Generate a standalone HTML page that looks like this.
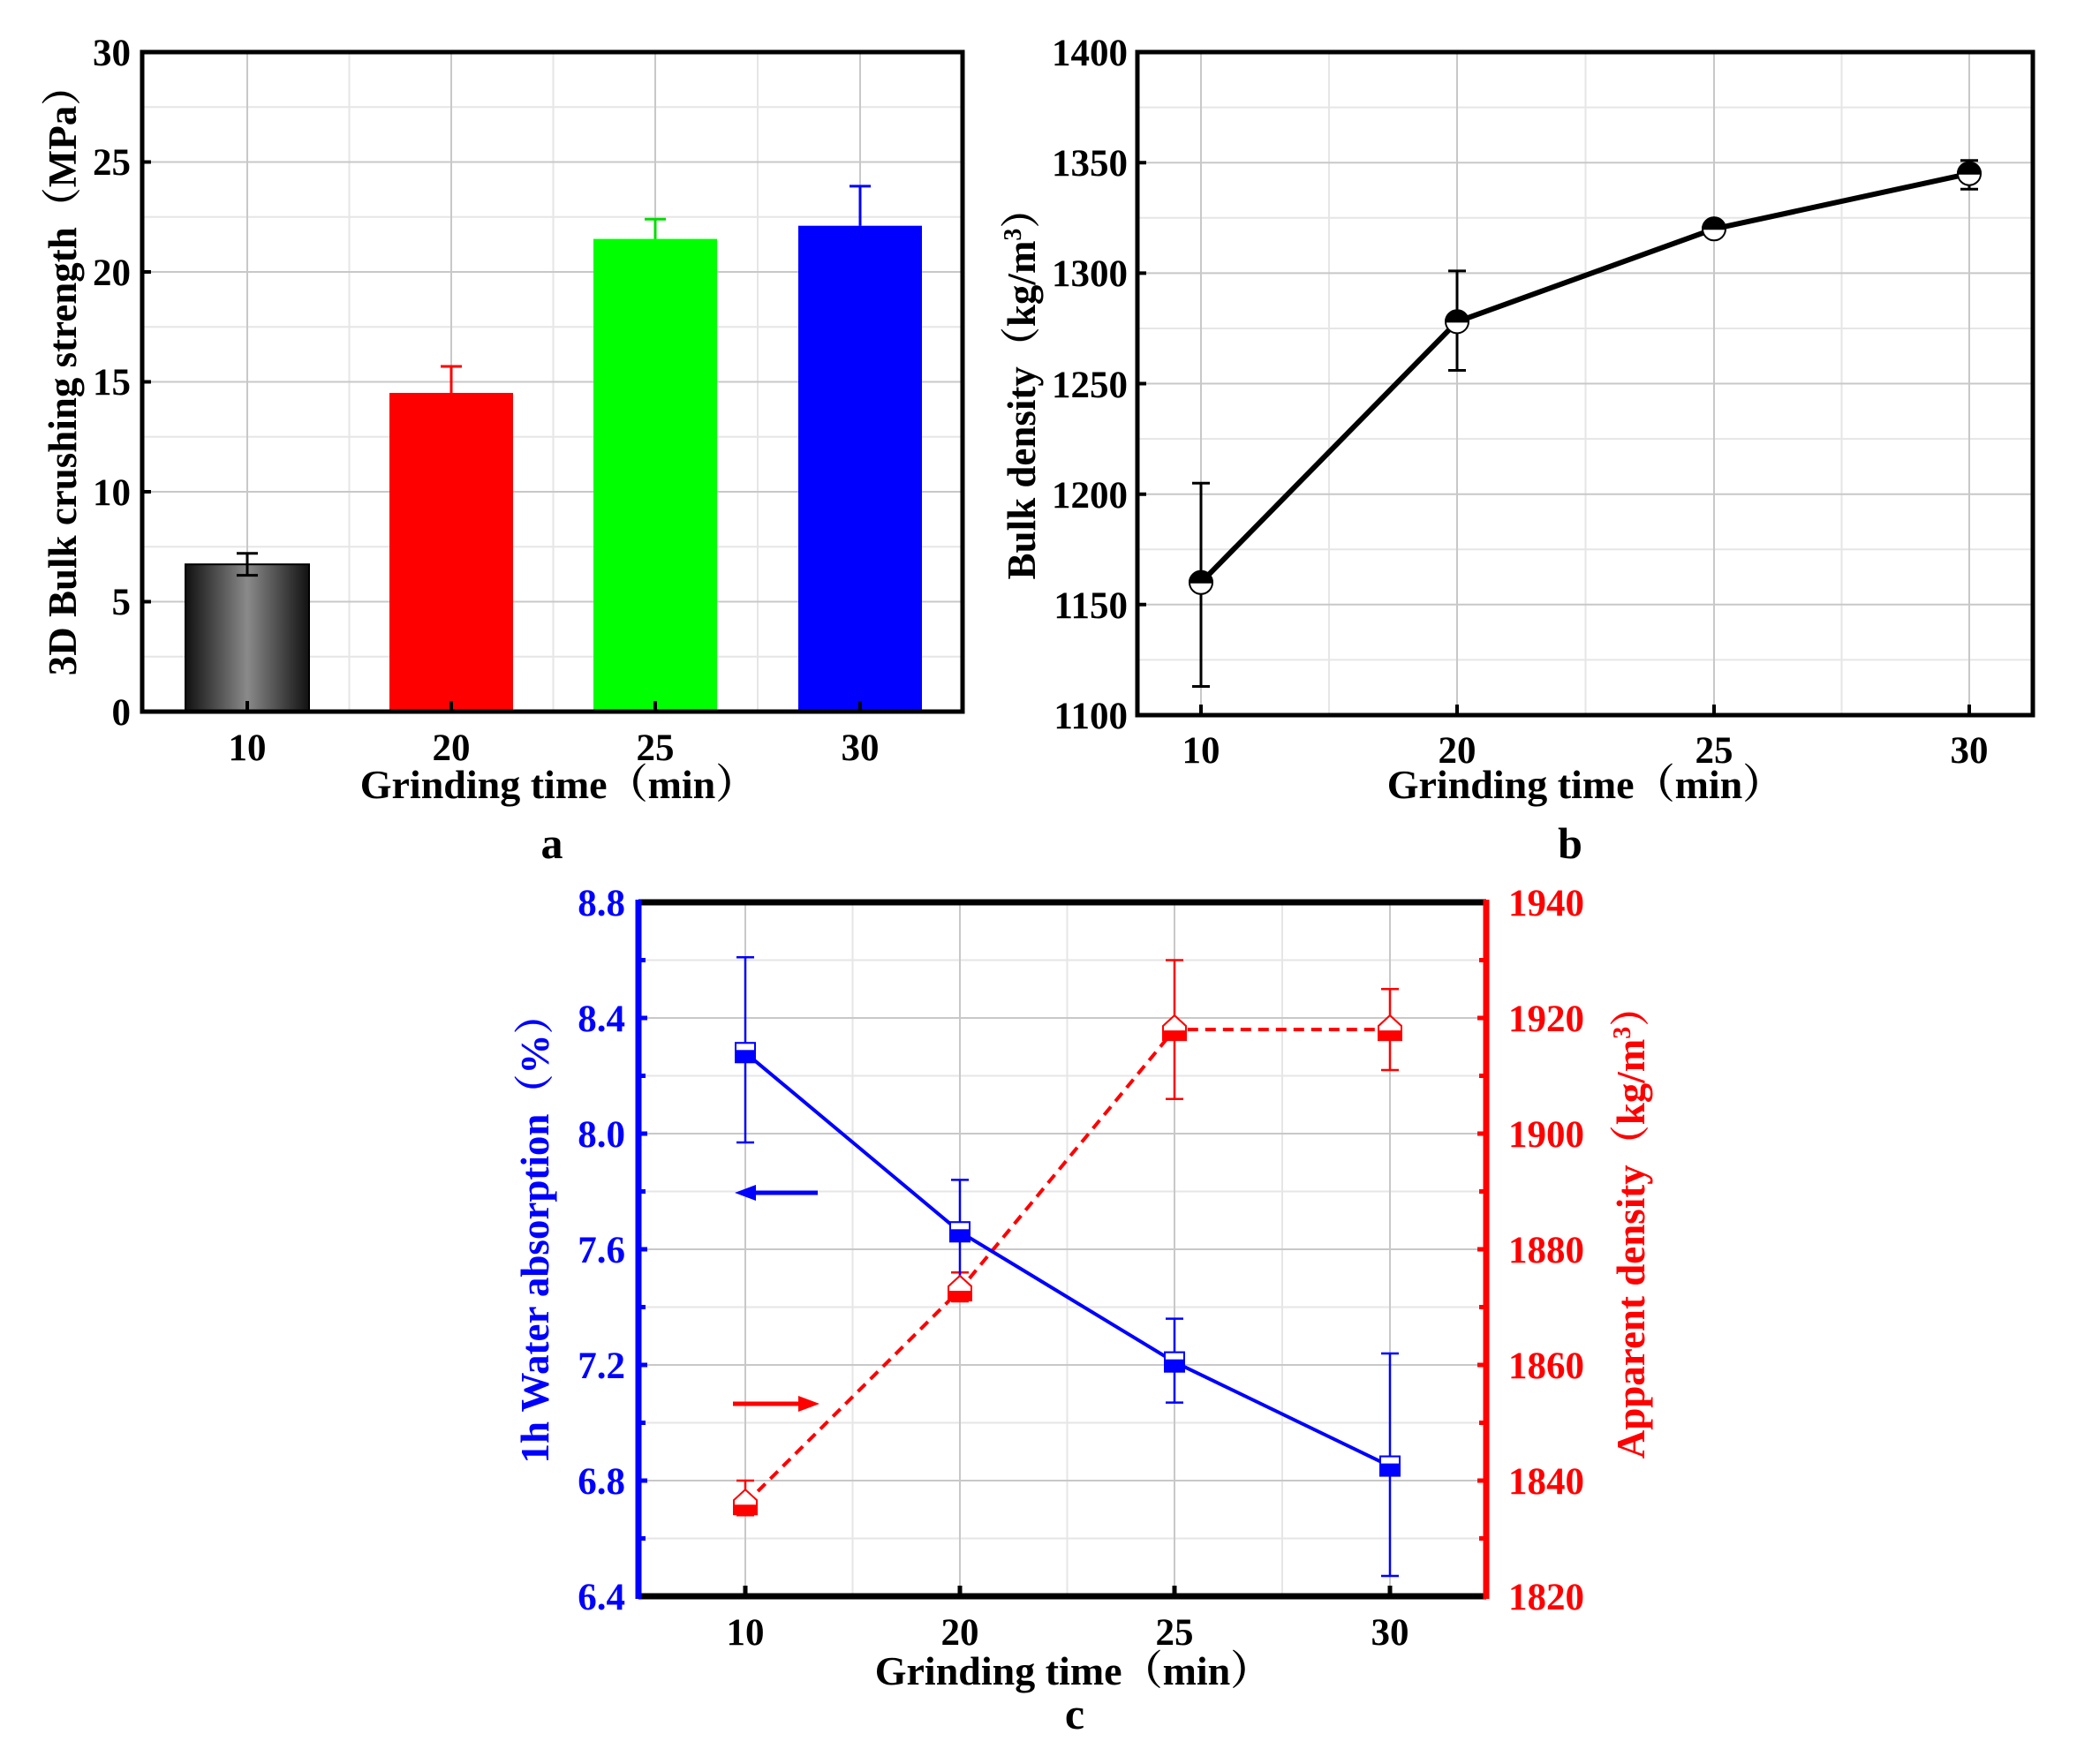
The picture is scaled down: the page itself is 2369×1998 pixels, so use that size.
<!DOCTYPE html>
<html><head><meta charset="utf-8"><style>
html,body{margin:0;padding:0;background:#fff}
svg{display:block}
text{font-family:"Liberation Serif","Noto Serif CJK SC",serif;font-weight:bold}
</style></head><body>
<svg width="2369" height="1998" viewBox="0 0 2369 1998" xmlns="http://www.w3.org/2000/svg">
<defs>
<linearGradient id="gb" x1="0" x2="1" y1="0" y2="0">
<stop offset="0" stop-color="#111"/><stop offset="0.5" stop-color="#8a8a8a"/><stop offset="1" stop-color="#111"/>
</linearGradient>
</defs>
<!-- Panel a -->
<g stroke="#e6e6e6" stroke-width="2">
<line x1="161" x2="1090" y1="743.8" y2="743.8"/><line x1="161" x2="1090" y1="619.3" y2="619.3"/><line x1="161" x2="1090" y1="494.8" y2="494.8"/><line x1="161" x2="1090" y1="370.3" y2="370.3"/><line x1="161" x2="1090" y1="245.8" y2="245.8"/><line x1="161" x2="1090" y1="121.3" y2="121.3"/>
<line x1="395.5" x2="395.5" y1="59" y2="806"/><line x1="626.5" x2="626.5" y1="59" y2="806"/><line x1="858" x2="858" y1="59" y2="806"/>
</g>
<g stroke="#c8c8c8" stroke-width="2">
<line x1="161" x2="1090" y1="681.5" y2="681.5"/><line x1="161" x2="1090" y1="557" y2="557"/><line x1="161" x2="1090" y1="432.5" y2="432.5"/><line x1="161" x2="1090" y1="308" y2="308"/><line x1="161" x2="1090" y1="183.5" y2="183.5"/>
<line x1="280" x2="280" y1="59" y2="806"/><line x1="511" x2="511" y1="59" y2="806"/><line x1="742" x2="742" y1="59" y2="806"/><line x1="974" x2="974" y1="59" y2="806"/>
</g>
<rect x="210" y="639.2" width="140" height="166.8" fill="url(#gb)" stroke="#000" stroke-width="2"/>
<rect x="441" y="445" width="140" height="361" fill="#ff0000"/>
<rect x="672" y="270.6" width="140" height="535.4" fill="#00ff00"/>
<rect x="904" y="255.7" width="140" height="550.3" fill="#0000ff"/>
<g stroke-width="3">
<path d="M280 651.6V626.7M268 651.6H292M268 626.7H292" stroke="#000"/>
<path d="M511 445V415M499 415H523" stroke="#ff0000"/>
<path d="M742 270.6V248.2M730 248.2H754" stroke="#00dd00"/>
<path d="M974 255.7V210.9M962 210.9H986" stroke="#0000ff"/>
</g>
<rect x="161" y="59" width="929" height="747" fill="none" stroke="#000" stroke-width="5"/>
<g stroke="#000" stroke-width="4">
<path d="M280 806v-12M511 806v-12M742 806v-12M974 806v-12M161 681.5h10M161 557h10M161 432.5h10M161 308h10M161 183.5h10"/>
</g>
<g font-size="43" text-anchor="end">
<text x="148" y="821">0</text><text x="148" y="696">5</text><text x="148" y="572">10</text><text x="148" y="447">15</text><text x="148" y="323">20</text><text x="148" y="198">25</text><text x="148" y="74">30</text>
</g>
<g font-size="43" text-anchor="middle">
<text x="280" y="861">10</text><text x="511" y="861">20</text><text x="742" y="861">25</text><text x="974" y="861">30</text>
<text x="632" y="904" font-size="46">Grinding time（min）</text>
<text x="625" y="972" font-size="50">a</text>
<text transform="translate(86,420) rotate(-90)" font-size="45">3D Bulk crushing strength（MPa）</text>
</g>
<!-- Panel b -->
<g stroke="#e6e6e6" stroke-width="2">
<line x1="1288" x2="2302" y1="121.6" y2="121.6"/><line x1="1288" x2="2302" y1="246.8" y2="246.8"/><line x1="1288" x2="2302" y1="372" y2="372"/><line x1="1288" x2="2302" y1="497.1" y2="497.1"/><line x1="1288" x2="2302" y1="622.3" y2="622.3"/><line x1="1288" x2="2302" y1="747.4" y2="747.4"/>
<line x1="1505" x2="1505" y1="59" y2="810"/><line x1="1795.5" x2="1795.5" y1="59" y2="810"/><line x1="2085.5" x2="2085.5" y1="59" y2="810"/>
</g>
<g stroke="#c8c8c8" stroke-width="2">
<line x1="1288" x2="2302" y1="184.2" y2="184.2"/><line x1="1288" x2="2302" y1="309.4" y2="309.4"/><line x1="1288" x2="2302" y1="434.5" y2="434.5"/><line x1="1288" x2="2302" y1="559.7" y2="559.7"/><line x1="1288" x2="2302" y1="684.8" y2="684.8"/>
<line x1="1360" x2="1360" y1="59" y2="810"/><line x1="1650" x2="1650" y1="59" y2="810"/><line x1="1941" x2="1941" y1="59" y2="810"/><line x1="2230" x2="2230" y1="59" y2="810"/>
</g>
<g stroke="#000" stroke-width="3" fill="none">
<path d="M1360 777.5V547.2M1350 777.5H1370M1350 547.2H1370"/>
<path d="M1650 419.5V306.9M1640 419.5H1660M1640 306.9H1660"/>
<path d="M1941 262V256M1933 262H1949M1933 256H1949"/>
<path d="M2230 214.3V181.8M2220 214.3H2240M2220 181.8H2240"/>
</g>
<polyline points="1360,659.8 1650,364.4 1941,259.3 2230,196.7" fill="none" stroke="#000" stroke-width="6"/>
<g stroke="#000" stroke-width="2">
<g transform="translate(1360,659.8)"><circle r="13" fill="#fff"/><path d="M-13 0A13 13 0 0 1 13 0Z" fill="#000"/></g>
<g transform="translate(1650,364.4)"><circle r="13" fill="#fff"/><path d="M-13 0A13 13 0 0 1 13 0Z" fill="#000"/></g>
<g transform="translate(1941,259.3)"><circle r="13" fill="#fff"/><path d="M-13 0A13 13 0 0 1 13 0Z" fill="#000"/></g>
<g transform="translate(2230,196.7)"><circle r="13" fill="#fff"/><path d="M-13 0A13 13 0 0 1 13 0Z" fill="#000"/></g>
</g>
<rect x="1288" y="59" width="1014" height="751" fill="none" stroke="#000" stroke-width="5"/>
<path d="M1360 810v-12M1650 810v-12M1941 810v-12M2230 810v-12M1288 684.8h10M1288 559.7h10M1288 434.5h10M1288 309.4h10M1288 184.2h10" stroke="#000" stroke-width="4"/>
<g font-size="43" text-anchor="end">
<text x="1277" y="825">1100</text><text x="1277" y="700">1150</text><text x="1277" y="575">1200</text><text x="1277" y="450">1250</text><text x="1277" y="324">1300</text><text x="1277" y="199">1350</text><text x="1277" y="74">1400</text>
</g>
<g font-size="43" text-anchor="middle">
<text x="1360" y="864">10</text><text x="1650" y="864">20</text><text x="1941" y="864">25</text><text x="2230" y="864">30</text>
<text x="1795" y="904" font-size="46">Grinding time（min）</text>
<text x="1778" y="972" font-size="50">b</text>
<text transform="translate(1172,435) rotate(-90)" font-size="45">Bulk density（kg/m<tspan font-size="28" dy="-16">3</tspan><tspan dy="16">）</tspan></text>
</g>
<!-- Panel c -->
<g stroke="#e6e6e6" stroke-width="2">
<line x1="723" x2="1683" y1="1087.5" y2="1087.5"/><line x1="723" x2="1683" y1="1218.5" y2="1218.5"/><line x1="723" x2="1683" y1="1349.5" y2="1349.5"/><line x1="723" x2="1683" y1="1480.5" y2="1480.5"/><line x1="723" x2="1683" y1="1611.5" y2="1611.5"/><line x1="723" x2="1683" y1="1742.5" y2="1742.5"/>
<line x1="965.5" x2="965.5" y1="1022" y2="1808"/><line x1="1208.5" x2="1208.5" y1="1022" y2="1808"/><line x1="1452" x2="1452" y1="1022" y2="1808"/>
</g>
<g stroke="#c8c8c8" stroke-width="2">
<line x1="723" x2="1683" y1="1153" y2="1153"/><line x1="723" x2="1683" y1="1284" y2="1284"/><line x1="723" x2="1683" y1="1415" y2="1415"/><line x1="723" x2="1683" y1="1546" y2="1546"/><line x1="723" x2="1683" y1="1677" y2="1677"/>
<line x1="844" x2="844" y1="1022" y2="1808"/><line x1="1087" x2="1087" y1="1022" y2="1808"/><line x1="1330" x2="1330" y1="1022" y2="1808"/><line x1="1574" x2="1574" y1="1022" y2="1808"/>
</g>
<g stroke="#ff0000" stroke-width="2.5" fill="none">
<path d="M844 1716.3V1677M834 1716.3H854M834 1677H854"/>
<path d="M1087 1474V1441.2M1077 1474H1097M1077 1441.2H1097"/>
<path d="M1330 1244.7V1087.5M1320 1244.7H1340M1320 1087.5H1340"/>
<path d="M1574 1212V1120.2M1564 1212H1584M1564 1120.2H1584"/>
</g>
<polyline points="844,1703.2 1087,1461 1330,1166.1 1574,1166.1" fill="none" stroke="#ff0000" stroke-width="4" stroke-dasharray="12,8"/>
<g stroke="#0000ff" stroke-width="2.5" fill="none">
<path d="M844 1294V1084.2M834 1294H854M834 1084.2H854"/>
<path d="M1087 1448V1336.4M1077 1336.4H1097"/>
<path d="M1330 1588.6V1493.6M1320 1588.6H1340M1320 1493.6H1340"/>
<path d="M1574 1785V1533M1564 1785H1584M1564 1533H1584"/>
</g>
<polyline points="844,1192.3 1087,1395.3 1330,1542.7 1574,1660.6" fill="none" stroke="#0000ff" stroke-width="4"/>
<g stroke="#0000ff" stroke-width="2">
<g transform="translate(844,1192.3)"><rect x="-11" y="-11" width="22" height="22" fill="#0000ff"/><rect x="-11" y="-11" width="22" height="9" fill="#fff"/></g>
<g transform="translate(1087,1395.3)"><rect x="-11" y="-11" width="22" height="22" fill="#0000ff"/><rect x="-11" y="-11" width="22" height="9" fill="#fff"/></g>
<g transform="translate(1330,1542.7)"><rect x="-11" y="-11" width="22" height="22" fill="#0000ff"/><rect x="-11" y="-11" width="22" height="9" fill="#fff"/></g>
<g transform="translate(1574,1660.6)"><rect x="-11" y="-11" width="22" height="22" fill="#0000ff"/><rect x="-11" y="-11" width="22" height="9" fill="#fff"/></g>
</g>
<g stroke="#ff0000" stroke-width="2">
<g transform="translate(844,1703.2)"><path d="M-13 -4L0 -16L13 -4V12H-13Z" fill="#ff0000"/><path d="M-13 -4L0 -16L13 -4V2H-13Z" fill="#fff"/></g>
<g transform="translate(1087,1461)"><path d="M-13 -4L0 -16L13 -4V12H-13Z" fill="#ff0000"/><path d="M-13 -4L0 -16L13 -4V2H-13Z" fill="#fff"/></g>
<g transform="translate(1330,1166.1)"><path d="M-13 -4L0 -16L13 -4V12H-13Z" fill="#ff0000"/><path d="M-13 -4L0 -16L13 -4V2H-13Z" fill="#fff"/></g>
<g transform="translate(1574,1166.1)"><path d="M-13 -4L0 -16L13 -4V12H-13Z" fill="#ff0000"/><path d="M-13 -4L0 -16L13 -4V2H-13Z" fill="#fff"/></g>
</g>
<!-- arrows -->
<path d="M926 1351H850" stroke="#0000ff" stroke-width="5"/><path d="M832 1351L856 1342V1360Z" fill="#0000ff"/>
<path d="M830 1590H906" stroke="#ff0000" stroke-width="5"/><path d="M928 1590L904 1581V1599Z" fill="#ff0000"/>
<!-- frame -->
<line x1="723" x2="1683" y1="1022" y2="1022" stroke="#000" stroke-width="7"/>
<line x1="723" x2="1683" y1="1808" y2="1808" stroke="#000" stroke-width="7"/>
<line x1="723" x2="723" y1="1019" y2="1811" stroke="#0000ff" stroke-width="7"/>
<line x1="1683" x2="1683" y1="1019" y2="1811" stroke="#ff0000" stroke-width="7"/>
<path d="M844 1808v-12M1087 1808v-12M1330 1808v-12M1574 1808v-12" stroke="#000" stroke-width="5"/>
<path d="M723 1087.5h8M723 1218.5h8M723 1349.5h8M723 1480.5h8M723 1611.5h8M723 1742.5h8M723 1153h10M723 1284h10M723 1415h10M723 1546h10M723 1677h10" stroke="#0000ff" stroke-width="5"/>
<path d="M1683 1087.5h-8M1683 1218.5h-8M1683 1349.5h-8M1683 1480.5h-8M1683 1611.5h-8M1683 1742.5h-8M1683 1153h-10M1683 1284h-10M1683 1415h-10M1683 1546h-10M1683 1677h-10" stroke="#ff0000" stroke-width="5"/>
<g font-size="43" text-anchor="end" fill="#0000ff">
<text x="708" y="1823">6.4</text><text x="708" y="1692">6.8</text><text x="708" y="1561">7.2</text><text x="708" y="1430">7.6</text><text x="708" y="1299">8.0</text><text x="708" y="1168">8.4</text><text x="708" y="1037">8.8</text>
</g>
<g font-size="43" fill="#ff0000">
<text x="1708" y="1823">1820</text><text x="1708" y="1692">1840</text><text x="1708" y="1561">1860</text><text x="1708" y="1430">1880</text><text x="1708" y="1299">1900</text><text x="1708" y="1168">1920</text><text x="1708" y="1037">1940</text>
</g>
<g font-size="43" text-anchor="middle">
<text x="844" y="1863">10</text><text x="1087" y="1863">20</text><text x="1330" y="1863">25</text><text x="1574" y="1863">30</text>
<text x="1215" y="1908" font-size="46">Grinding time（min）</text>
<text x="1217" y="1958" font-size="50">c</text>
<text transform="translate(621,1392) rotate(-90)" fill="#0000ff" font-size="45">1h Water absorption（%）</text>
<text transform="translate(1862,1385) rotate(-90)" fill="#ff0000" font-size="45">Apparent density（kg/m<tspan font-size="28" dy="-16">3</tspan><tspan dy="16">）</tspan></text>
</g>
</svg>
</body></html>
